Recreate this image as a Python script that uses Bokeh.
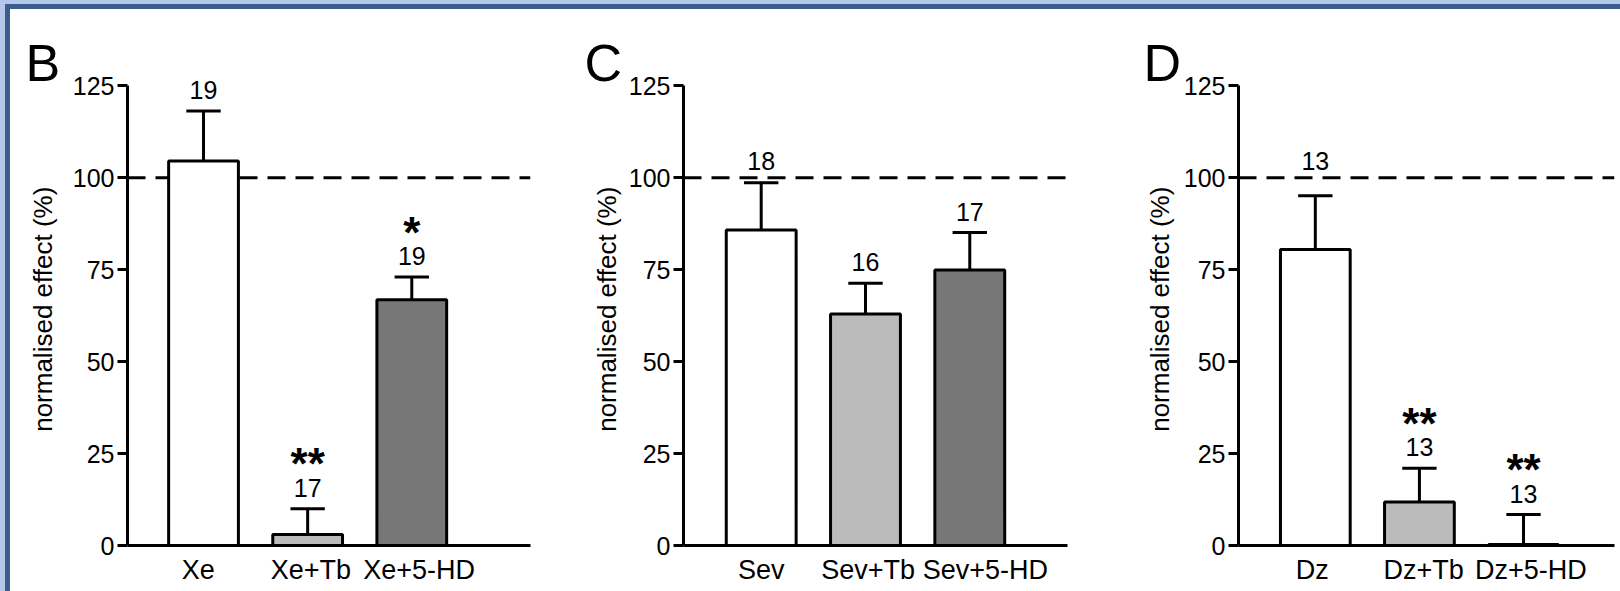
import math
from bokeh.plotting import figure
from bokeh.layouts import row, column
from bokeh.models import Range1d, FixedTicker, Div
from bokeh.core.properties import value
from bokeh.embed import file_html
from bokeh.resources import INLINE

# ---------------- data ----------------
b_labels = ["Xe", "Xe+Tb", "Xe+5-HD"]
b_means = [104.5, 3.0, 66.8]
b_err = [13.6, 7.0, 6.2]
b_n = [19, 17, 19]
b_sig = ["", "**", "*"]

c_labels = ["Sev", "Sev+Tb", "Sev+5-HD"]
c_means = [85.8, 62.9, 74.9]
c_err = [12.8, 8.4, 10.2]
c_n = [18, 16, 17]
c_sig = ["", "", ""]

d_labels = ["Dz", "Dz+Tb", "Dz+5-HD"]
d_means = [80.5, 11.8, 0.3]
d_err = [14.6, 9.2, 8.1]
d_n = [13, 13, 13]
d_sig = ["", "**", "**"]

bar_colors = ["#ffffff", "#bbbbbb", "#777777"]
y_ticks = [0, 25, 50, 75, 100, 125]
reference_level = 100
y_label = "normalised effect (%)"

FONT = "Liberation Sans"
FIG_H = 582
TOP = 21
BOTTOM = 46
YMAX = 140
LEFT = 57


def label_fig(width, letter, letter_x, ylab_x):
    f = figure(width=width, height=FIG_H, x_range=Range1d(0, width),
               y_range=Range1d(0, FIG_H), output_backend="svg",
               toolbar_location=None, x_axis_location=None, y_axis_location=None,
               min_border=0)
    f.outline_line_color = None
    f.xgrid.visible = False
    f.ygrid.visible = False
    f.text(x=[letter_x], y=[FIG_H - 37], text=[letter], text_font=value(FONT),
           text_font_size="52px", text_align="left", text_baseline="alphabetic",
           text_color="black")
    f.text(x=[ylab_x], y=[FIG_H - 315], text=[y_label], angle=math.pi / 2,
           text_font=value(FONT), text_font_size="26px", text_align="center",
           text_baseline="middle", text_color="black")
    return f


def panel(labels, means, errs, ns, sigs, width, right, x_start, x_end, label_shift):
    xs = [1, 2, 3]
    p = figure(width=width, height=FIG_H,
               x_range=Range1d(x_start, x_end), y_range=Range1d(0, YMAX),
               output_backend="svg", toolbar_location=None,
               min_border_left=LEFT, min_border_right=right,
               min_border_top=TOP, min_border_bottom=BOTTOM)
    p.outline_line_color = None
    p.xgrid.visible = False
    p.ygrid.visible = False
    p.background_fill_color = "white"
    p.border_fill_color = "white"

    # dashed reference line (behind bars)
    p.segment(x0=[x_start], y0=[reference_level], x1=[x_end], y1=[reference_level],
              line_color="black", line_width=3, line_dash="18 10")

    tops = [m + e for m, e in zip(means, errs)]
    # error bars
    p.segment(x0=xs, y0=means, x1=xs, y1=tops, line_color="black", line_width=3)
    cap = 0.165
    p.segment(x0=[x - cap for x in xs], y0=tops, x1=[x + cap for x in xs], y1=tops,
              line_color="black", line_width=3)
    # bars
    p.vbar(x=xs, width=0.67, top=means, bottom=0, fill_color=bar_colors,
           line_color="black", line_width=3)

    # n labels (lifted above the dashed line when they would touch it)
    ly = []
    for t in tops:
        y = t + 2.7
        if reference_level - 7 < t < reference_level + 1.5:
            y = reference_level + 1.5
        ly.append(y)
    p.text(x=xs, y=ly, text=[str(v) for v in ns], text_font=value(FONT),
           text_font_size="25px", text_align="center", text_baseline="alphabetic",
           y_offset=-11, text_color="black")
    # significance
    p.text(x=xs, y=ly, text=sigs, text_font=value(FONT), text_font_style="bold",
           text_font_size="44px", text_align="center", text_baseline="alphabetic",
           y_offset=-35, text_color="black")

    # y axis
    ya = p.yaxis[0]
    ya.ticker = FixedTicker(ticks=y_ticks)
    ya.bounds = (0, 125)
    ya.axis_line_width = 3
    ya.major_tick_line_width = 3
    ya.major_tick_out = 10
    ya.major_tick_in = 0
    ya.minor_tick_line_color = None
    ya.major_label_text_font = FONT
    ya.major_label_text_font_size = "25px"
    ya.major_label_text_color = "black"
    ya.major_label_standoff = 3

    # x axis (label anchors nudged as in the original figure)
    tick_pos = [x + s for x, s in zip(xs, label_shift)]
    xa = p.xaxis[0]
    xa.ticker = FixedTicker(ticks=tick_pos)
    xa.major_label_overrides = {t: lab for t, lab in zip(tick_pos, labels)}
    xa.major_tick_line_color = None
    xa.major_tick_out = 0
    xa.major_tick_in = 0
    xa.minor_tick_line_color = None
    xa.axis_line_width = 3
    xa.major_label_text_font = FONT
    xa.major_label_text_font_size = "27px"
    xa.major_label_text_color = "black"
    xa.major_label_standoff = 9
    return p


l1 = label_fig(59, "B", 15, 32.5)
p1 = panel(b_labels, b_means, b_err, b_n, b_sig, 476, 15, 0.27, 4.14, [-0.05, 0.03, 0.07])
l2 = label_fig(80, "C", 39, 61)
p2 = panel(c_labels, c_means, c_err, c_n, c_sig, 465, 23, 0.255, 3.937, [0.0, 0.025, 0.15])
l3 = label_fig(90, "D", 53, 69)
p3 = panel(d_labels, d_means, d_err, d_n, d_sig, 440, 6, 0.262, 3.874, [-0.03, 0.04, 0.07])

LIGHT = "#b4c8e9"
DARK = "#3b5e8e"
top_strip = Div(text="", width=1620, height=9, margin=0,
                styles={"background": f"linear-gradient(to right, {LIGHT} 5px, transparent 5px), "
                                      f"linear-gradient(to bottom, {LIGHT} 4px, {DARK} 4px)"})
left_strip = Div(text="", width=10, height=FIG_H, margin=0,
                 styles={"background": f"linear-gradient(to right, {LIGHT} 5px, {DARK} 5px)"})

layout = column(top_strip, row(left_strip, l1, p1, l2, p2, l3, p3, spacing=0), spacing=0)

open("out.html", "w").write(file_html(layout, INLINE))
